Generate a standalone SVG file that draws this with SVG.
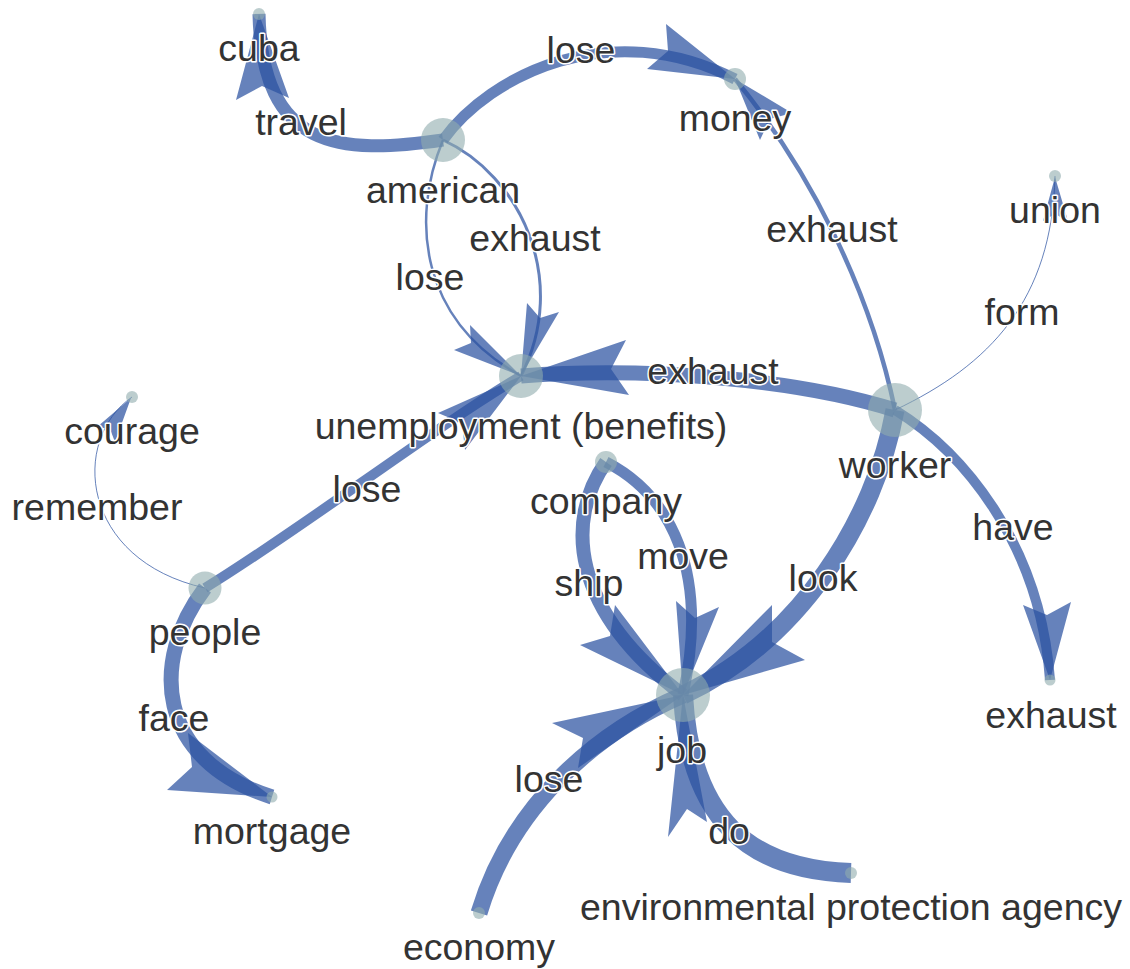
<svg xmlns="http://www.w3.org/2000/svg" width="1130" height="969" viewBox="0 0 1130 969">
<style>
.e{fill:none;stroke:#2b52a1;stroke-opacity:.72;stroke-linecap:butt}
.a{fill:#2b52a1;fill-opacity:.72}
.n{fill:#8fabae;fill-opacity:.6}
text{font-family:"Liberation Sans",Arial,sans-serif;font-size:37.5px;fill:#333;text-anchor:middle;stroke:#fff;stroke-width:3;stroke-linejoin:round;paint-order:stroke}
</style>
<rect width="1130" height="969" fill="#fff"/>
<g id="edges">
<path class="e" stroke-width="13" d="M443,140 C340,155 262,150 259,14"/>
<polygon class="a" points="259,14 289,98 262,86 236,100"/>
<path class="e" stroke-width="11" d="M443,140 C490,75 610,15 735,79"/>
<polygon class="a" points="735,79 666,24 668,51 647,69"/>
<path class="e" stroke-width="2.5" d="M443,140 C410,220 420,320 521,376"/>
<polygon class="a" points="521,376 470,325 471,343 454,350"/>
<path class="e" stroke-width="3" d="M443,140 C520,175 570,280 521,376"/>
<polygon class="a" points="521,376 527,303 540,318 559,312"/>
<path class="e" stroke-width="15" d="M895,410 C800,380 650,366 521,376"/>
<polygon class="a" points="521,376 626,340 611,369 629,395"/>
<path class="e" stroke-width="4.5" d="M895,410 C870,290 810,170 735,79"/>
<polygon class="a" points="735,79 792,113 770,119 760,140"/>
<path class="e" stroke-width="1" d="M895,410 C990,365 1052,300 1055,176"/>
<polygon class="a" points="1055,177 1068,221 1055,214 1043,221"/>
<path class="e" stroke-width="10" d="M895,410 C960,450 1040,540 1050,680"/>
<polygon class="a" points="1050,680 1023,605 1047,615 1071,602"/>
<path class="e" stroke-width="19" d="M895,410 C875,520 800,640 683,695"/>
<polygon class="a" points="683,695 772,605 772,642 805,660"/>
<path class="e" stroke-width="10" d="M205,588 C300,530 430,430 521,376"/>
<polygon class="a" points="521,376 438,413 462,423 465,450"/>
<path class="e" stroke-width="1" d="M205,588 C80,560 70,440 132,397"/>
<polygon class="a" points="131,398 97,427 110,429 115,442"/>
<path class="e" stroke-width="15" d="M205,588 C150,660 155,760 272,797"/>
<polygon class="a" points="272,797 188,733 192,767 167,790"/>
<path class="e" stroke-width="14" d="M606,462 C565,520 570,610 683,695"/>
<polygon class="a" points="683,695 615,605 610,636 580,645"/>
<path class="e" stroke-width="11" d="M606,462 C670,495 710,570 683,695"/>
<polygon class="a" points="683,695 676,601 695,618 719,607"/>
<path class="e" stroke-width="17" d="M479,913 C510,810 590,735 683,695"/>
<polygon class="a" points="683,695 552,723 583,738 578,768"/>
<path class="e" stroke-width="20" d="M851,873 C750,870 690,820 683,695"/>
<polygon class="a" points="683,695 668,837 687,809 707,822"/>
</g>
<g id="node-cuba"><circle class="n" cx="259" cy="14" r="6"/><text x="259" y="61">cuba</text></g>
<g id="node-american"><circle class="n" cx="443" cy="140" r="22"/><text x="443" y="203">american</text></g>
<g id="node-money"><circle class="n" cx="735" cy="79" r="11"/><text x="735" y="131">money</text></g>
<g id="node-union"><circle class="n" cx="1055" cy="176" r="6"/><text x="1055" y="223">union</text></g>
<g id="node-unemployment"><circle class="n" cx="521" cy="376" r="22"/><text x="521" y="439">unemployment (benefits)</text></g>
<g id="node-worker"><circle class="n" cx="895" cy="410" r="27"/><text x="895" y="478">worker</text></g>
<g id="node-courage"><circle class="n" cx="132" cy="397" r="6"/><text x="132" y="444">courage</text></g>
<g id="node-people"><circle class="n" cx="205" cy="588" r="16.5"/><text x="205" y="645">people</text></g>
<g id="node-company"><circle class="n" cx="606" cy="462" r="11"/><text x="606" y="514">company</text></g>
<g id="node-job"><circle class="n" cx="683" cy="695" r="27"/><text x="682" y="763">job</text></g>
<g id="node-exhaust"><circle class="n" cx="1050" cy="680" r="5.5"/><text x="1051" y="728">exhaust</text></g>
<g id="node-mortgage"><circle class="n" cx="272" cy="797" r="5.5"/><text x="272" y="844">mortgage</text></g>
<g id="node-economy"><circle class="n" cx="479" cy="913" r="6"/><text x="479" y="960">economy</text></g>
<g id="node-epa"><circle class="n" cx="851" cy="873" r="6"/><text x="851" y="920">environmental protection agency</text></g>
<g id="edge-labels">
<text x="301" y="135">travel</text>
<text x="581" y="63">lose</text>
<text x="535" y="251">exhaust</text>
<text x="430" y="290">lose</text>
<text x="832" y="242">exhaust</text>
<text x="1022" y="325">form</text>
<text x="713" y="384">exhaust</text>
<text x="97" y="520">remember</text>
<text x="367" y="502">lose</text>
<text x="1013" y="540">have</text>
<text x="823" y="591">look</text>
<text x="589" y="596">ship</text>
<text x="683" y="569">move</text>
<text x="174" y="731">face</text>
<text x="549" y="792">lose</text>
<text x="729" y="844">do</text>
</g>
</svg>
